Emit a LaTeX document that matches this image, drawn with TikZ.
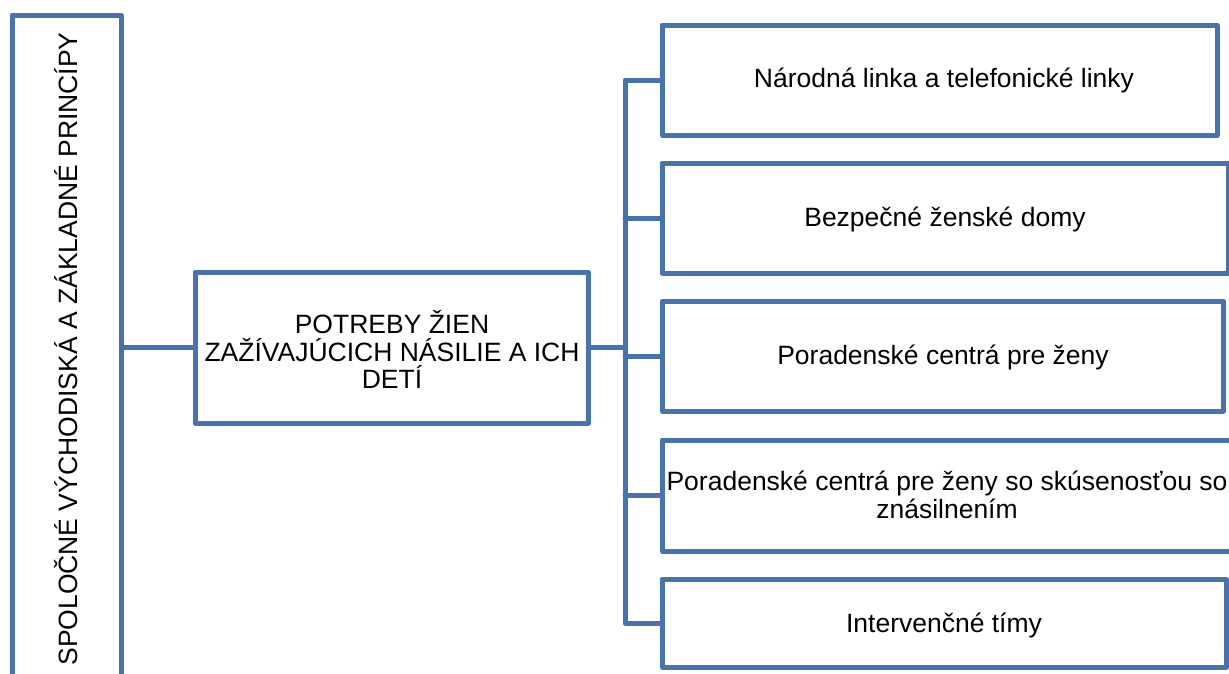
\documentclass[tikz,border=0pt]{standalone}
\usepackage{fontspec}
\setmainfont{Liberation Sans}
\definecolor{smblue}{HTML}{4773AA}
\begin{document}
\begin{tikzpicture}[x=1pt,y=-1pt,
  box/.style={draw=smblue,line width=5pt,line join=round,rectangle,inner sep=0pt,fill=white},
  lbl/.style={inner sep=0pt,align=center,font=\fontsize{26.5}{27.5}\selectfont,text=black},
  conn/.style={draw=smblue,line width=5pt,line join=round,line cap=round}]
\useasboundingbox (0,0) rectangle (1229,673);
\fill[white] (0,0) rectangle (1229,673);
% left tall box
\node[box,minimum width=109pt,minimum height=668pt] (L) at (66.5,349) {};
\node[lbl] (Lt) at (66,349) {\rotatebox{90}{SPOLOČNÉ VÝCHODISKÁ A ZÁKLADNÉ PRINCÍPY}};
% middle box
\node[box,minimum width=393pt,minimum height=151pt] (M) at (391.5,347.5) {};
\node[lbl] (Mt) at (392,349.5) {POTREBY ŽIEN\\ZAŽÍVAJÚCICH NÁSILIE A ICH\\DETÍ};
% right boxes
\node[box,minimum width=555pt,minimum height=110pt] (b1) at (939.5,80) {};
\node[box,minimum width=566pt,minimum height=110pt] (b2) at (945,218) {};
\node[box,minimum width=561pt,minimum height=110pt] (b3) at (942.5,356) {};
\node[box,minimum width=572pt,minimum height=111pt] (b4) at (948,495.5) {};
\node[box,minimum width=564pt,minimum height=88pt] (b5) at (944,623) {};
\node[lbl] (t1) at (944,80) {Národná linka a telefonické linky};
\node[lbl] (t2) at (945,219) {Bezpečné ženské domy};
\node[lbl] (t3) at (943,357) {Poradenské centrá pre ženy};
\node[lbl] (t4) at (947,495) {Poradenské centrá pre ženy so skúsenosťou so\\znásilnením};
\node[lbl] (t5) at (944,625) {Intervenčné tímy};
% connectors
\coordinate (bus) at (625,0);
\draw[conn] (M.west -| L.east) -- (M.west);
\draw[conn] (M.east) -- (M.east -| bus);
\draw[conn] (b1.west) -- (b1.west -| bus) -- (b5.west -| bus) -- (b5.west);
\draw[conn] (b2.west -| bus) -- (b2.west);
\draw[conn] (b3.west -| bus) -- (b3.west);
\draw[conn] (b4.west -| bus) -- (b4.west);
\end{tikzpicture}
\end{document}
